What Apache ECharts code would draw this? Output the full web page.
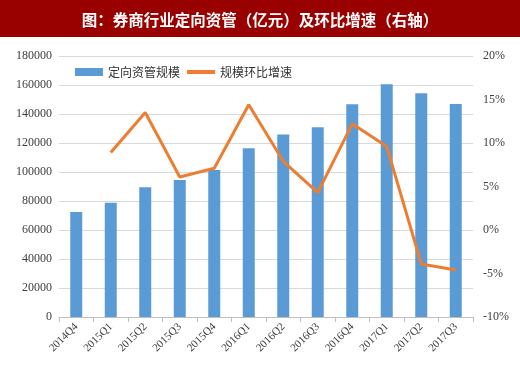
<!DOCTYPE html>
<html><head><meta charset="utf-8">
<script src="https://cdn.jsdelivr.net/npm/echarts@6/dist/echarts.min.js"></script>
<style>html,body{margin:0;padding:0;background:#fff}#c{width:520px;height:373px}</style>
</head><body><div id="c"></div>
<script>
const categories = ['2014Q4','2015Q1','2015Q2','2015Q3','2015Q4','2016Q1','2016Q2','2016Q3','2016Q4','2017Q1','2017Q2','2017Q3'];
const scale = [72400, 78800, 89400, 94500, 101400, 116300, 125800, 130800, 146700, 160500, 154300, 146900];
const growth = [null, 8.9, 13.5, 6.1, 7.1, 14.4, 7.9, 4.3, 12.2, 9.6, -3.9, -4.6];
const titleText = '图：券商行业定向资管（亿元）及环比增速（右轴）';
const seriesNames = ['定向资管规模', '规模环比增速'];

const chart = echarts.init(document.getElementById('c'));
chart.setOption({
  animation: false,
  backgroundColor: '#fff',
  graphic: [{type:'rect', left:0, top:0, shape:{width:520, height:37}, style:{fill:'#990000'}, z:0}],
  title: {text: titleText, left: 'center', top: 7,
    textStyle: {color:'#fff', fontSize:15.5, fontWeight:'bold', fontFamily:'Noto Sans CJK SC'}},
  legend: [
    {left: 70, top: 61, itemWidth: 28, itemHeight: 8, icon:'rect',
      textStyle: {fontSize: 12, color:'#333', fontFamily:'Noto Sans CJK SC'},
      data: [seriesNames[0]]},
    {left: 182, top: 61, itemWidth: 28, itemHeight: 4, icon:'rect',
      textStyle: {fontSize: 12, color:'#333', fontFamily:'Noto Sans CJK SC'},
      data: [seriesNames[1]]}
  ],
  grid: {left: 59, right: 47, top: 56, bottom: 56},
  xAxis: {type:'category', data: categories, boundaryGap: true,
    axisLine: {lineStyle:{color:'#bfbfbf'}},
    axisTick: {show:true, alignWithLabel:false, length:5, lineStyle:{color:'#bfbfbf'}},
    axisLabel: {rotate: 45, fontSize: 11, color:'#404040', fontFamily:'Liberation Serif', margin: 8}},
  yAxis: [
    {type:'value', min:0, max:180000, interval:20000,
      axisLine:{show:false}, axisTick:{show:false},
      splitLine:{lineStyle:{color:'#d9d9d9', width:1}},
      axisLabel:{fontSize:12, color:'#404040', fontFamily:'Liberation Serif', margin:7, formatter: v => String(v)}},
    {type:'value', min:-10, max:20, interval:5,
      axisLine:{show:false}, axisTick:{show:false}, splitLine:{show:false},
      axisLabel:{fontSize:12, color:'#404040', fontFamily:'Liberation Serif', margin:10, formatter: v => v + '%'}}
  ],
  series: [
    {name: seriesNames[0], type:'bar', data: scale, barWidth: 12, itemStyle:{color:'#5B9BD5'}},
    {name: seriesNames[1], type:'line', yAxisIndex:1, data: growth, symbol:'none',
      lineStyle:{color:'#ED7D31', width:3}, itemStyle:{color:'#ED7D31'}}
  ]
});
</script></body></html>
